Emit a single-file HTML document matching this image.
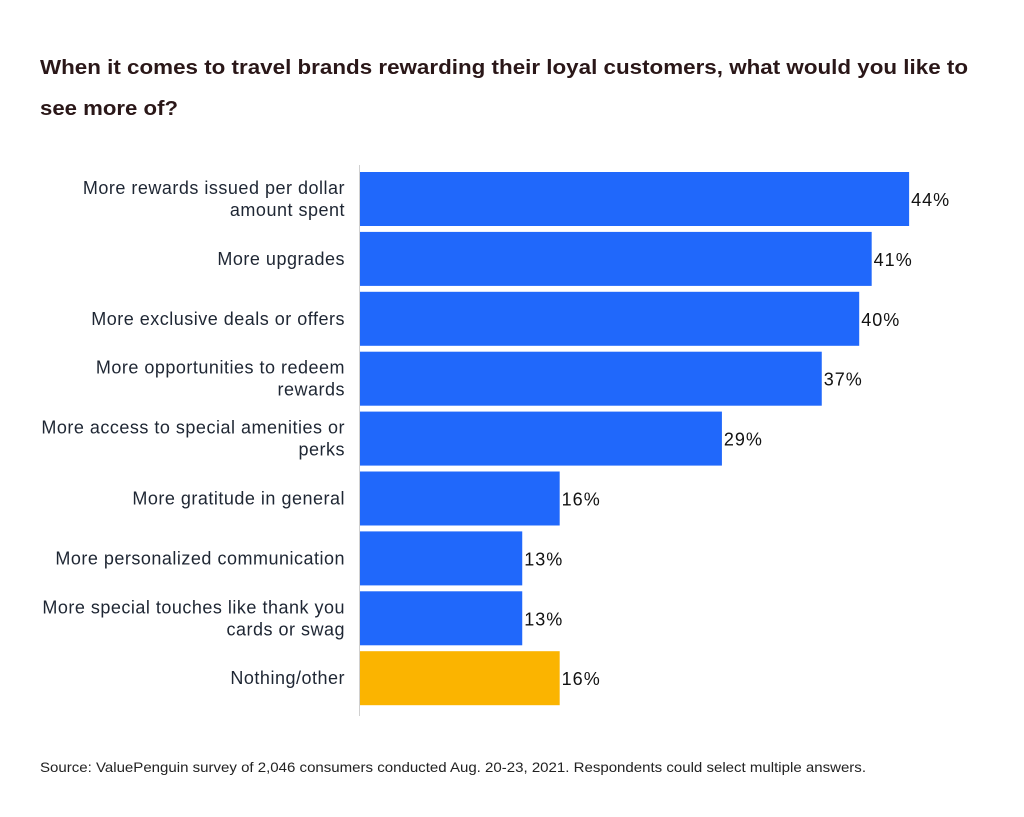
<!DOCTYPE html>
<html><head><meta charset="utf-8"><style>
html,body{margin:0;padding:0;background:#fff;}
svg{display:block;font-family:"Liberation Sans",sans-serif;}
</style></head><body>
<svg width="1024" height="817" viewBox="0 0 1024 817">
<text x="40" y="74" font-size="20" font-weight="bold" fill="#2a1718" textLength="928" lengthAdjust="spacingAndGlyphs">When it comes to travel brands rewarding their loyal customers, what would you like to</text>
<text x="40" y="115" font-size="20" font-weight="bold" fill="#2a1718" textLength="138" lengthAdjust="spacingAndGlyphs">see more of?</text>
<g id="bars"></g>
<line x1="359.5" y1="165" x2="359.5" y2="716" stroke="#d0d0d0" stroke-width="1"/>
<text x="40" y="772" font-size="14" fill="#222" textLength="826" lengthAdjust="spacingAndGlyphs">Source: ValuePenguin survey of 2,046 consumers conducted Aug. 20-23, 2021. Respondents could select multiple answers.</text>
</svg>
<script>
const categories = [
  ["More rewards issued per dollar","amount spent"],
  ["More upgrades"],
  ["More exclusive deals or offers"],
  ["More opportunities to redeem","rewards"],
  ["More access to special amenities or","perks"],
  ["More gratitude in general"],
  ["More personalized communication"],
  ["More special touches like thank you","cards or swag"],
  ["Nothing/other"]
];
const values = [44, 41, 40, 37, 29, 16, 13, 13, 16];
const highlight = [false,false,false,false,false,false,false,false,true];

const x0 = 360, pxPerPct = 12.48;
const xScale = v => x0 + v * pxPerPct;
const yTop = i => 172 + i * 59.9;
const barH = 54;
const ns = "http://www.w3.org/2000/svg";
const g = document.getElementById("bars");
values.forEach((v, i) => {
  const r = document.createElementNS(ns, "rect");
  r.setAttribute("x", x0);
  r.setAttribute("y", yTop(i));
  r.setAttribute("width", xScale(v) - x0);
  r.setAttribute("height", barH);
  r.setAttribute("fill", highlight[i] ? "#fbb400" : "#2068fb");
  
  
  g.appendChild(r);
  const t = document.createElementNS(ns, "text");
  t.setAttribute("x", xScale(v) + 2);
  t.setAttribute("y", yTop(i) + barH / 2 + 7);
  t.setAttribute("font-size", "18");
  t.setAttribute("letter-spacing", "1");
  t.setAttribute("fill", "#111");
  t.textContent = v + "%";
  
  
  g.appendChild(t);
  const lines = categories[i];
  const cy = yTop(i) + barH / 2;
  lines.forEach((ln, k) => {
    const l = document.createElementNS(ns, "text");
    l.setAttribute("x", 345);
    l.setAttribute("y", cy + 6 + (k - (lines.length - 1) / 2) * 22);
    l.setAttribute("font-size", "18");
    l.setAttribute("letter-spacing", "0.5");
    l.setAttribute("fill", "#1e2633");
    l.setAttribute("text-anchor", "end");
    l.textContent = ln;
    
    
    g.appendChild(l);
  });
});
</script>
</body></html>
